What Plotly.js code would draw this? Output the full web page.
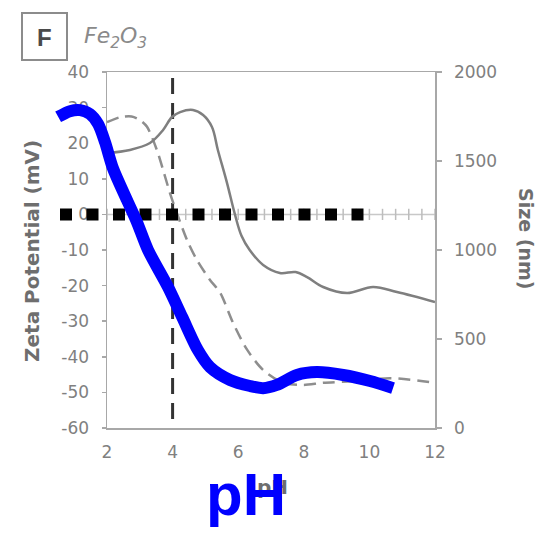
<!DOCTYPE html>
<html>
<head>
<meta charset="utf-8">
<script src="https://cdn.plot.ly/plotly-3.0.1.min.js"></script>
<style>html,body{margin:0;padding:0;background:#fff;}#chart{width:539px;height:534px;}</style>
</head>
<body>
<div id="chart"></div>
<script>
// ---------- data ----------
const xTicks = [2, 4, 6, 8, 10, 12];
const zetaTicks = [40, 30, 20, 10, 0, -10, -20, -30, -40, -50, -60];
const sizeTicks = [0, 500, 1000, 1500, 2000];

// particle size (nm), right axis
const sizePH = [2.0, 2.7, 3.31, 3.71, 3.98, 4.23, 4.62, 4.93, 5.2, 5.38, 5.66, 5.9, 6.1, 6.35, 6.76, 7.27, 7.75, 8.1, 8.59, 9.32, 10.11, 10.84, 12.0];
const sizeNm = [1545, 1562, 1601, 1674, 1747, 1775, 1787, 1758, 1691, 1562, 1376, 1200, 1080, 1000, 916, 871, 876, 848, 792, 758, 792, 764, 708];

// zeta potential (mV), left axis
const zetaPH = [2.0, 2.4, 2.75, 3.0, 3.22, 3.52, 3.71, 3.92, 4.13, 4.44, 4.74, 5.14, 5.45, 5.84, 6.27, 6.76, 7.37, 7.98, 8.59, 9.62, 10.63, 12.0];
const zetaMV = [25.9, 27.3, 27.5, 26.5, 24.6, 18.1, 12.5, 6.0, 0.4, -7.2, -12.8, -18.4, -22, -30.4, -38, -43.7, -47.3, -47.9, -47.3, -46.8, -46, -47.3];

// zero reference line with tick marks
const zeroPH = [2, 2.4, 2.8, 3.2, 3.6, 4, 4.4, 4.8, 5.2, 5.6, 6, 6.4, 6.8, 7.2, 7.6, 8, 8.4, 8.8, 9.2, 9.6, 10, 10.4, 10.8, 11.2, 11.6, 12];
const zeroMV = [0, 0, 0, 0, 0, 0, 0, 0, 0, 0, 0, 0, 0, 0, 0, 0, 0, 0, 0, 0, 0, 0, 0, 0, 0, 0];

// isoelectric point marker
const iepPH = [4, 4];
const iepMV = [38.3, -60];

// hand-drawn overlay: blue sketch curve
const bluePH = [0.51, 0.87, 1.18, 1.48, 1.73, 1.94, 2.18, 2.61, 2.91, 3.25, 3.86, 4.29, 4.77, 5.14, 5.75, 6.36, 6.76, 7.18, 7.79, 8.40, 9.20, 10.02, 10.72];
const blueMV = [27.4, 29.0, 29.3, 28.2, 25.4, 20.3, 13.0, 4.0, -2.1, -10.0, -20.4, -28.8, -38.1, -42.9, -46.5, -48.2, -48.8, -47.9, -45.1, -44.3, -45.1, -46.8, -48.8];

// hand-drawn overlay: black dotted line at zero
const dotPH = [0.567, 9.84];
const dotMV = [0, 0];

// ---------- layout geometry ----------
const W = 539, H = 534;
const plotL = 107, plotR = 435, plotT = 72, plotB = 428;
const xMin = 2, xMax = 12, yMin = -60, yMax = 40;
const pxX = (plotR - plotL) / (xMax - xMin);
const pxY = (plotB - plotT) / (yMax - yMin);
const x3range = [xMin - plotL / pxX, xMax + (W - plotR) / pxX];
const y3range = [yMin - (H - plotB) / pxY, yMax + plotT / pxY];
const px = v => v / W;
const py = v => 1 - v / H;

const axisGray = '#a8a8a8';
const tickFont = {family: 'DejaVu Sans', size: 17, color: '#808080'};
const titleColor = '#6e6e6e';

const traces = [
  {x: zeroPH, y: zeroMV, xaxis: 'x', yaxis: 'y', mode: 'lines+markers',
   line: {color: '#c8c8c8', width: 1.5},
   marker: {symbol: 'line-ns', size: 8, line: {color: '#bdbdbd', width: 1.5}}},
  {x: iepPH, y: iepMV, xaxis: 'x', yaxis: 'y', mode: 'lines',
   line: {color: '#333333', width: 3, dash: '16px,9px'}},
  {x: sizePH, y: sizeNm, xaxis: 'x', yaxis: 'y2', mode: 'lines',
   line: {color: '#7f7f7f', width: 2.5, shape: 'spline', smoothing: 1}},
  {x: zetaPH, y: zetaMV, xaxis: 'x', yaxis: 'y', mode: 'lines',
   line: {color: '#8e8e8e', width: 2.5, dash: '12px,7px', shape: 'spline', smoothing: 0.8}},
  {x: dotPH, y: dotMV, xaxis: 'x3', yaxis: 'y3', mode: 'lines',
   line: {color: '#000000', width: 12, dash: '12px,14.5px'}},
  {x: bluePH, y: blueMV, xaxis: 'x3', yaxis: 'y3', mode: 'lines',
   line: {color: '#0000ff', width: 12, shape: 'spline', smoothing: 0.8}}
];

const layout = {
  width: W, height: H,
  margin: {l: 0, r: 0, t: 0, b: 0, pad: 0},
  paper_bgcolor: '#ffffff',
  plot_bgcolor: 'rgba(0,0,0,0)',
  showlegend: false,
  xaxis: {
    domain: [plotL / W, plotR / W], range: [xMin, xMax], anchor: 'y',
    tickvals: xTicks, ticktext: xTicks.map(String), tickfont: tickFont,
    showline: true, linecolor: axisGray, linewidth: 1.5, mirror: true,
    ticks: '', showgrid: false, zeroline: false, ticklabelstandoff: 8
  },
  yaxis: {
    domain: [(H - plotB) / H, (H - plotT) / H], range: [yMin, yMax], anchor: 'x',
    tickvals: zetaTicks, ticktext: zetaTicks.map(String), tickfont: tickFont,
    showline: true, linecolor: axisGray, linewidth: 1.5,
    ticks: 'outside', ticklen: 4, tickcolor: axisGray, tickwidth: 1.5,
    showgrid: false, zeroline: false, ticklabelstandoff: 9
  },
  yaxis2: {
    overlaying: 'y', side: 'right', anchor: 'x', range: [0, 2000],
    tickvals: sizeTicks, ticktext: sizeTicks.map(String), tickfont: tickFont,
    showline: true, linecolor: axisGray, linewidth: 1.5,
    ticks: 'outside', ticklen: 5, tickcolor: axisGray, tickwidth: 1.5,
    showgrid: false, zeroline: false, ticklabelstandoff: 9
  },
  xaxis3: {domain: [0, 1], anchor: 'y3', range: x3range, visible: false, fixedrange: true},
  yaxis3: {domain: [0, 1], anchor: 'x3', range: y3range, visible: false, fixedrange: true},
  shapes: [
    {type: 'rect', xref: 'paper', yref: 'paper', x0: px(22), x1: px(67), y0: py(60), y1: py(13),
     line: {color: '#8c8c8c', width: 2}, fillcolor: 'rgba(0,0,0,0)'}
  ],
  annotations: [
    {xref: 'paper', yref: 'paper', x: px(44.5), y: py(37), text: '<b>F</b>', showarrow: false,
     xanchor: 'center', yanchor: 'middle', font: {family: 'Liberation Sans, Arial', size: 24, color: '#4a4a4a'}},
    {xref: 'paper', yref: 'paper', x: px(82), y: py(38), text: '<i>Fe<sub>2</sub>O<sub>3</sub></i>', showarrow: false,
     xanchor: 'left', yanchor: 'middle', font: {family: 'DejaVu Sans', size: 22, color: '#8a8a8a'}},
    {xref: 'paper', yref: 'paper', x: px(32), y: py(251), text: '<b>Zeta Potential (mV)</b>', showarrow: false,
     textangle: -90, xanchor: 'center', yanchor: 'middle', font: {family: 'DejaVu Sans', size: 20, color: titleColor}},
    {xref: 'paper', yref: 'paper', x: px(526), y: py(238), text: '<b>Size (nm)</b>', showarrow: false,
     textangle: 90, xanchor: 'center', yanchor: 'middle', font: {family: 'DejaVu Sans', size: 19, color: titleColor}},
    {xref: 'paper', yref: 'paper', x: px(272), y: py(487), text: '<b>pH</b>', showarrow: false,
     xanchor: 'center', yanchor: 'middle', font: {family: 'DejaVu Sans', size: 20, color: titleColor}},
    {xref: 'paper', yref: 'paper', x: px(246), y: py(494), text: '<b>pH</b>', showarrow: false,
     xanchor: 'center', yanchor: 'middle', font: {family: 'Liberation Sans, Arial', size: 60, color: '#0000ff'}}
  ]
};

Plotly.newPlot('chart', traces, layout, {staticPlot: true, displayModeBar: false});
</script>
</body>
</html>
